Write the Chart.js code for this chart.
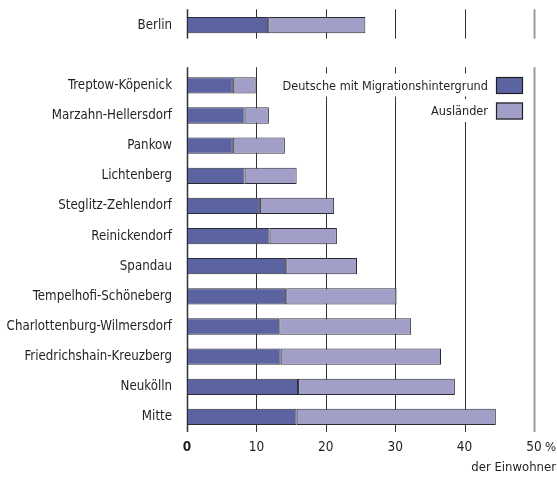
<!DOCTYPE html>
<html>
<head>
<meta charset="utf-8">
<script src="https://cdn.jsdelivr.net/npm/chart.js@4"></script>
<style>
  html, body { margin: 0; padding: 0; background: #fff; }
  #wrap { width: 557px; height: 477px; }
</style>
</head>
<body>
<div id="wrap"><canvas id="migration"></canvas></div>
<script>
const districts = [
  "Berlin", "",
  "Treptow-Köpenick", "Marzahn-Hellersdorf", "Pankow", "Lichtenberg",
  "Steglitz-Zehlendorf", "Reinickendorf", "Spandau", "Tempelhofi-Schöneberg",
  "Charlottenburg-Wilmersdorf", "Friedrichshain-Kreuzberg", "Neukölln", "Mitte",
];
const deutscheMigration = [11.7, null, 6.6, 8.3, 6.6, 8.3, 10.5, 11.9, 14.3, 14.3, 13.3, 13.5, 16.0, 15.8];
const auslaender = [14.0, null, 3.3, 3.5, 7.5, 7.5, 10.7, 9.7, 10.2, 15.9, 19.0, 23.1, 22.6, 28.7];
const xTicks = [0, 10, 20, 30, 40, 50];
const seriesLabels = ["Deutsche mit Migrationshintergrund", "Ausländer"];
const seriesColors = ["#5b63a1", "#a19fc7"];

const FONT = "'Liberation Sans Narrow', 'DejaVu Sans Condensed', 'Roboto Condensed', sans-serif";
const TEXT = "#231f20";

// grid lines are split in two blocks: Berlin on its own, then the districts
const gridPlugin = {
  id: "splitGrid",
  beforeDatasetsDraw(chart) {
    const { ctx, scales: { x, y } } = chart;
    const half = (y.getPixelForValue(1) - y.getPixelForValue(0)) / 2;
    const blocks = [
      [y.getPixelForValue(0) - half * 1.05, y.getPixelForValue(0) + half * 0.9],
      [y.getPixelForValue(2) - half * 1.2, y.getPixelForValue(districts.length - 1) + half],
    ];
    ctx.save();
    xTicks.forEach((v) => {
      const px = Math.round(x.getPixelForValue(v)) + 0.5;
      ctx.strokeStyle = v === 50 ? "#9a9a9a" : "#333";
      ctx.lineWidth = v === 50 ? 2 : v === 0 ? 1.5 : 1;
      blocks.forEach(([a, b]) => {
        ctx.beginPath();
        ctx.moveTo(px, a);
        ctx.lineTo(px, b);
        ctx.stroke();
      });
    });
    ctx.restore();
  },
  afterDatasetsDraw(chart) {
    const { ctx, chartArea, scales: { x } } = chart;
    const boxW = 27, boxH = 17;
    const boxLeft = chartArea.right - 38;
    ctx.save();
    ctx.font = "12.6px " + FONT;
    ctx.textAlign = "right";
    ctx.textBaseline = "middle";
    chart.data.datasets.forEach((ds, i) => {
      const cy = chartArea.top + 75.5 + i * 25.5;
      const tw = ctx.measureText(ds.label).width;
      ctx.fillStyle = "#fff";
      ctx.fillRect(boxLeft - 8 - tw - 2, cy - 12, tw + boxW + 12, 23);
      ctx.fillStyle = TEXT;
      ctx.fillText(ds.label, boxLeft - 8, cy + 1);
      ctx.fillStyle = ds.backgroundColor;
      ctx.fillRect(boxLeft, cy - boxH / 2, boxW, boxH);
      ctx.strokeStyle = "#231f20";
      ctx.lineWidth = 1.2;
      ctx.strokeRect(boxLeft + 0.5, cy - boxH / 2 + 0.5, boxW - 1, boxH - 1);
    });
    // unit after the last tick and the axis note
    ctx.font = "13px " + FONT;
    ctx.textAlign = "left";
    ctx.fillStyle = TEXT;
    ctx.fillText("%", x.getPixelForValue(50) + 11, 448);
    ctx.textAlign = "right";
    ctx.fillText("der Einwohner", 556, 468);
    ctx.restore();
  },
};

new Chart(document.getElementById("migration"), {
  type: "bar",
  data: {
    labels: districts,
    datasets: [
      {
        label: seriesLabels[0],
        data: deutscheMigration,
        backgroundColor: seriesColors[0],
        borderColor: "#2b2b33",
        borderWidth: 1,
        borderSkipped: false,
      },
      {
        label: seriesLabels[1],
        data: auslaender,
        backgroundColor: seriesColors[1],
        borderColor: "#2b2b33",
        borderWidth: 1,
        borderSkipped: false,
      },
    ],
  },
  options: {
    indexAxis: "y",
    responsive: true,
    maintainAspectRatio: false,
    animation: false,
    layout: { padding: { left: 0, right: 23, top: 10, bottom: 0 } },
    datasets: { bar: { categoryPercentage: 1, barPercentage: 0.54 } },
    plugins: {
      legend: { display: false },
      tooltip: { enabled: false },
    },
    scales: {
      x: {
        stacked: true,
        min: 0,
        max: 50,
        afterBuildTicks: (scale) => {
          scale.ticks = xTicks.map((v) => ({ value: v }));
        },
        afterFit: (scale) => { scale.height = 45; },
        grid: { display: false, drawTicks: false },
        border: { display: false },
        ticks: {
          padding: 7,
          color: TEXT,
          maxRotation: 0,
          font: (c) => ({
            family: FONT,
            size: 13.5,
            weight: c.tick && c.tick.value === 0 ? "bold" : "normal",
          }),
        },
      },
      y: {
        stacked: true,
        afterFit: (scale) => { scale.width = 187; },
        // tick marks hidden, their length only keeps the labels off the axis
        grid: { display: false, drawTicks: true, tickLength: 15 },
        border: { display: false },
        ticks: {
          padding: 0,
          color: TEXT,
          autoSkip: false,
          font: { family: FONT, size: 13.2 },
        },
      },
    },
  },
  plugins: [gridPlugin],
});
</script>
</body>
</html>
